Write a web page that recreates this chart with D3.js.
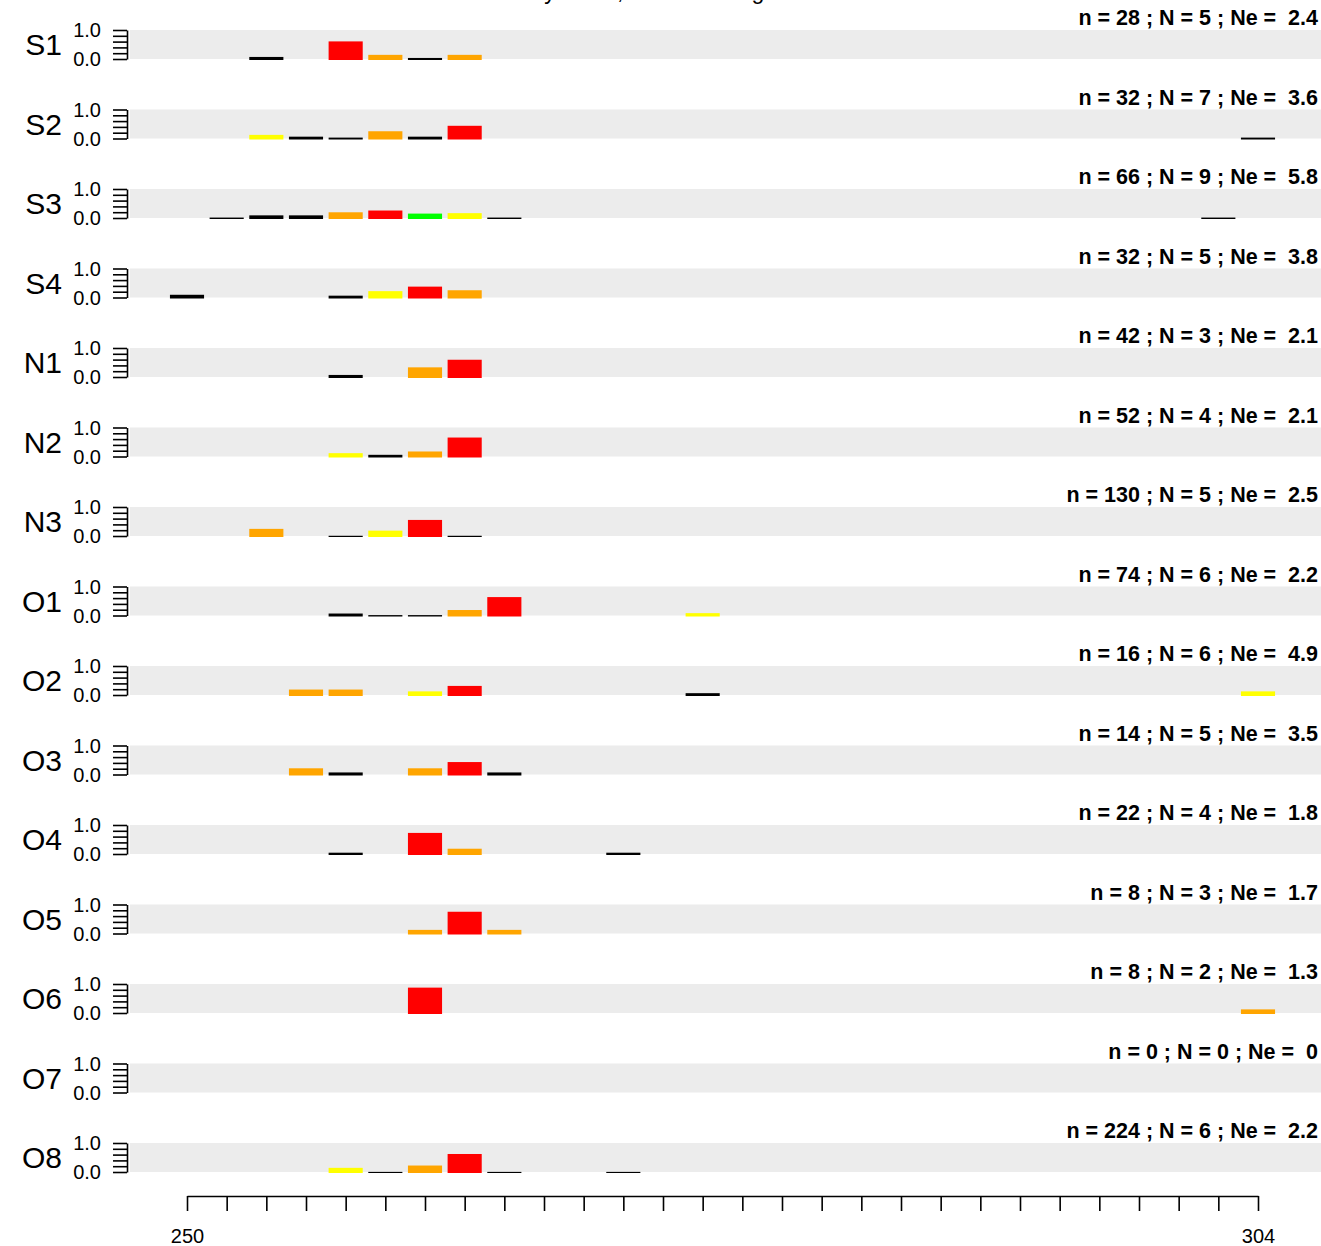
<!DOCTYPE html>
<html>
<head>
<meta charset="utf-8">
<script src="https://cdn.jsdelivr.net/npm/d3@7"></script>
<style>
  body { margin: 0; background: #fff; }
  text { font-family: "Liberation Sans", Arial, Helvetica, sans-serif; }
</style>
</head>
<body>
<div id="chart"></div>
<script>
var svgWidth = 1321;
var svgHeight = 1246;

// populations, one panel each
var popLabels = ["S1", "S2", "S3", "S4", "N1", "N2", "N3", "O1", "O2", "O3", "O4", "O5", "O6", "O7", "O8"];
var sampleSizes = [28, 32, 66, 32, 42, 52, 130, 74, 16, 14, 22, 8, 8, 0, 224];
var alleleNumbers = [5, 7, 9, 5, 3, 4, 5, 6, 6, 5, 4, 3, 2, 0, 6];
var neValues = ["2.4", "3.6", "5.8", "3.8", "2.1", "2.1", "2.5", "2.2", "4.9", "3.5", "1.8", "1.7", "1.3", "0", "2.2"];

// allele sizes seen in each population
var alleleSizes = [
  [254, 258, 260, 262, 264],
  [254, 256, 258, 260, 262, 264, 304],
  [252, 254, 256, 258, 260, 262, 264, 266, 302],
  [250, 258, 260, 262, 264],
  [258, 262, 264],
  [258, 260, 262, 264],
  [254, 258, 260, 262, 264],
  [258, 260, 262, 264, 266, 276],
  [256, 258, 262, 264, 276, 304],
  [256, 258, 262, 264, 266],
  [258, 262, 264, 272],
  [262, 264, 266],
  [262, 304],
  [],
  [258, 260, 262, 264, 266, 272]
];

// allele frequencies (same order as alleleSizes)
var alleleFreqs = [
  [0.071, 0.607, 0.143, 0.036, 0.143],
  [0.125, 0.063, 0.031, 0.25, 0.063, 0.438, 0.031],
  [0.015, 0.091, 0.091, 0.197, 0.258, 0.152, 0.167, 0.015, 0.015],
  [0.094, 0.063, 0.219, 0.375, 0.25],
  [0.071, 0.333, 0.595],
  [0.115, 0.058, 0.173, 0.654],
  [0.246, 0.008, 0.185, 0.554, 0.008],
  [0.068, 0.014, 0.014, 0.189, 0.635, 0.081],
  [0.188, 0.188, 0.125, 0.313, 0.063, 0.125],
  [0.214, 0.071, 0.214, 0.429, 0.071],
  [0.045, 0.727, 0.182, 0.045],
  [0.125, 0.75, 0.125],
  [0.875, 0.125],
  [],
  [0.143, 0.004, 0.223, 0.621, 0.004, 0.004]
];

// colour class of each bar: r red, o orange, y yellow, g green, k black
var alleleClasses = [
  ["k", "r", "o", "k", "o"],
  ["y", "k", "k", "o", "k", "r", "k"],
  ["k", "k", "k", "o", "r", "g", "y", "k", "k"],
  ["k", "k", "y", "r", "o"],
  ["k", "o", "r"],
  ["y", "k", "o", "r"],
  ["o", "k", "y", "r", "k"],
  ["k", "k", "k", "o", "r", "y"],
  ["o", "o", "y", "r", "k", "y"],
  ["o", "k", "o", "r", "k"],
  ["k", "r", "o", "k"],
  ["o", "r", "o"],
  ["r", "o"],
  [],
  ["y", "k", "o", "r", "k", "k"]
];

var xTicks = d3.range(250, 305, 2);
var xTickLabels = [250, 304];
var yTicks = [0, 0.2, 0.4, 0.6, 0.8, 1.0];
var yTickLabels = [0, 1];

var titleText = "Locus Omy1011, allele range: 250 - 304";

var svg = d3.select("#chart")
  .append("svg")
  .attr("width", svgWidth)
  .attr("height", svgHeight);

var xScale = d3.scaleLinear().domain([250, 304]).range([187, 1258]);
var panelScale = d3.scalePoint().domain(popLabels).range([30, 1143]);
var bandH = 29;
var yScale = d3.scaleLinear().domain([0, 1]).range([bandH, 0]);

var colorScale = d3.scaleOrdinal()
  .domain(["r", "o", "y", "g", "k"])
  .range(["#ff0000", "#ffa500", "#ffff00", "#00ff00", "#000000"]);

var barW = (xScale(252) - xScale(250)) * 0.86;

// title (mostly cut off at the top edge, as in the source figure)
svg.append("text")
  .attr("x", 668)
  .attr("y", -1)
  .attr("text-anchor", "middle")
  .attr("font-size", 23)
  .attr("textLength", 495)
  .attr("lengthAdjust", "spacing")
  .text(titleText);

popLabels.forEach(function (pop, i) {
  var g = svg.append("g")
    .attr("transform", `translate(0, ${panelScale(pop)})`);

  // grey band
  g.append("rect")
    .attr("x", 130)
    .attr("y", yScale(1))
    .attr("width", svgWidth - 130)
    .attr("height", yScale(0) - yScale(1))
    .attr("fill", "#ececec");

  // bars
  var bars = alleleSizes[i].map(function (a, j) {
    return {size: a, freq: alleleFreqs[i][j], cls: alleleClasses[i][j]};
  });
  g.selectAll("rect.bar")
    .data(bars)
    .enter()
    .append("rect")
    .attr("class", "bar")
    .attr("x", d => xScale(d.size) - barW / 2)
    .attr("y", d => yScale(d.freq))
    .attr("width", barW)
    .attr("height", d => yScale(0) - yScale(d.freq) + 1)
    .attr("fill", d => colorScale(d.cls));

  // y axis
  var yAxis = d3.axisLeft(yScale)
    .tickValues(yTicks)
    .tickSize(14)
    .tickSizeOuter(0)
    .tickFormat("");
  var ya = g.append("g")
    .attr("transform", "translate(127, 0)")
    .call(yAxis);
  ya.selectAll("line").attr("stroke-width", 1.6);
  ya.select(".domain").attr("stroke-width", 1.6);

  g.selectAll("text.ylab")
    .data(yTickLabels)
    .enter()
    .append("text")
    .attr("class", "ylab")
    .attr("x", 101)
    .attr("y", d => yScale(d))
    .attr("dy", "0.36em")
    .attr("text-anchor", "end")
    .attr("font-size", 20)
    .text(d => d3.format(".1f")(d));

  // population name
  g.append("text")
    .attr("x", 62)
    .attr("y", 25)
    .attr("text-anchor", "end")
    .attr("font-size", 30)
    .text(pop);

  // sample summary
  g.append("text")
    .attr("x", 1318)
    .attr("y", -5)
    .attr("text-anchor", "end")
    .attr("font-size", 21.5)
    .attr("font-weight", "bold")
    .style("white-space", "pre")
    .text(`n = ${sampleSizes[i]} ; N = ${alleleNumbers[i]} ; Ne =  ${neValues[i]}`);
});

// x axis
var xAxis = d3.axisBottom(xScale)
  .tickValues(xTicks)
  .tickSize(15)
  .tickSizeOuter(0)
  .tickPadding(18)
  .tickFormat(d => xTickLabels.indexOf(d) >= 0 ? d : "");
var xa = svg.append("g")
  .attr("transform", "translate(0, 1196)")
  .call(xAxis);
xa.selectAll("line").attr("stroke-width", 1.6);
xa.select(".domain").attr("stroke-width", 1.6);
xa.selectAll("text")
  .attr("font-size", 20)
  .attr("font-family", "Liberation Sans, Arial, sans-serif");
</script>
</body>
</html>
